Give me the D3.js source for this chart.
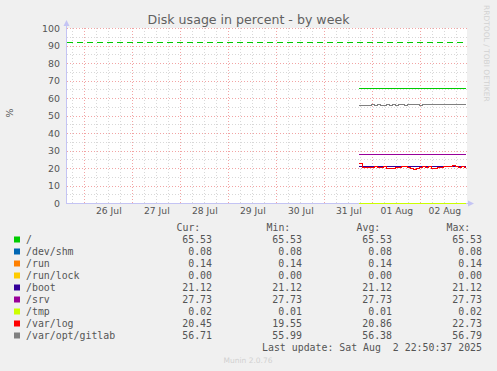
<!DOCTYPE html>
<html>
<head>
<meta charset="utf-8">
<script src="https://cdn.jsdelivr.net/npm/d3@7"></script>
<style>
  body { margin: 0; background: #f0f0f0; }
  svg text { font-family: "DejaVu Sans", sans-serif; fill: #555; }
  .mono { font-family: "DejaVu Sans Mono", monospace; }
</style>
</head>
<body>
<svg id="chart"></svg>
<script>
var width = 497, height = 371;

// filesystems, in draw order
var fsNames  = ["/", "/dev/shm", "/run", "/run/lock", "/boot", "/srv", "/tmp", "/var/log", "/var/opt/gitlab"];
var fsColors = ["#00cc00", "#0066b3", "#ff8000", "#ffcc00", "#330099", "#990099", "#ccff00", "#ff0000", "#808080"];
var curVals = ["65.53", "0.08", "0.14", "0.00", "21.12", "27.73", "0.02", "20.45", "56.71"];
var minVals = ["65.53", "0.08", "0.14", "0.00", "21.12", "27.73", "0.01", "19.55", "55.99"];
var avgVals = ["65.53", "0.08", "0.14", "0.00", "21.12", "27.73", "0.01", "20.86", "56.38"];
var maxVals = ["65.53", "0.08", "0.14", "0.00", "21.12", "27.73", "0.02", "22.73", "56.79"];

// 90 minute samples from Jul 31 17:30
var varLogSamples = [22.73, 20.6, 20.5, 20.5, 20.4, 21.3, 20.7, 20.5, 21.0, 19.9, 19.8, 20.2,
                     20.5, 20.6, 21.2, 21.3, 20.4, 19.9, 19.55, 20.1, 20.6, 20.9, 20.4, 21.2,
                     20.2, 20.0, 20.6, 20.8, 21.0, 21.0, 21.2, 21.9, 21.4, 20.7, 20.9, 20.45];
var gitlabSamples = [56.0, 56.0, 56.0, 56.0, 56.3, 56.0, 56.5, 56.0, 56.0, 56.5, 56.0, 56.6,
                     56.0, 56.6, 56.6, 56.0, 56.6, 56.7, 56.7, 56.79, 56.0, 56.4, 56.4, 56.4,
                     56.4, 56.4, 56.4, 56.4, 56.4, 56.4, 56.4, 56.4, 56.4, 56.4, 56.4, 56.5];

var warnLevel = 92;
var yTicks = [0, 10, 20, 30, 40, 50, 60, 70, 80, 90, 100];
var xLabelDays = [new Date(2025,6,26,12), new Date(2025,6,27,12), new Date(2025,6,28,12), new Date(2025,6,29,12),
                  new Date(2025,6,30,12), new Date(2025,6,31,12), new Date(2025,7,1,12), new Date(2025,7,2,12)];

var viewEnd = new Date(2025,7,2,23,20);
var viewStart = new Date(viewEnd.getTime() - 720000 * 1000);
var dataStart = new Date(2025,6,31,17,30);
var dataEnd = new Date(2025,7,2,22,50);

var svg = d3.select("#chart").attr("width", width).attr("height", height);

var x = d3.scaleTime().domain([viewStart, viewEnd]).range([67, 467]);
var y = d3.scaleLinear().domain([0, 100]).range([203, 28]);

// plot background
svg.append("rect").attr("x", 67).attr("y", 28).attr("width", 400).attr("height", 175).attr("fill", "#fff");

// minor grid
var grid = svg.append("g").attr("shape-rendering", "crispEdges");
d3.timeHour.every(6).range(viewStart, viewEnd).forEach(function(t){
    if (t.getHours() === 0) return;
    grid.append("line").attr("x1", Math.round(x(t)) + 0.5).attr("x2", Math.round(x(t)) + 0.5)
        .attr("y1", 28).attr("y2", 203).attr("stroke", "#d8d8d8").attr("stroke-dasharray", "1,2");
});
d3.range(5, 100, 10).forEach(function(v){
    grid.append("line").attr("x1", 67).attr("x2", 467).attr("y1", Math.round(y(v)) + 0.5).attr("y2", Math.round(y(v)) + 0.5)
        .attr("stroke", "#d8d8d8").attr("stroke-dasharray", "1,2");
});
// major grid
d3.timeDay.range(viewStart, viewEnd).forEach(function(t){
    grid.append("line").attr("x1", Math.round(x(t)) + 0.5).attr("x2", Math.round(x(t)) + 0.5)
        .attr("y1", 28).attr("y2", 203).attr("stroke", "#f2a4a4").attr("stroke-dasharray", "1,2");
});
yTicks.forEach(function(v){
    if (v === 0) return;
    grid.append("line").attr("x1", 67).attr("x2", 467).attr("y1", Math.round(y(v)) + 0.5).attr("y2", Math.round(y(v)) + 0.5)
        .attr("stroke", "#f2a4a4").attr("stroke-dasharray", "1,2");
});

// axes
var axisColor = "#c4c4f4";
svg.append("line").attr("x1", 66.5).attr("x2", 66.5).attr("y1", 203).attr("y2", 24).attr("stroke", axisColor);
svg.append("path").attr("d", "M63.5,26 L66.5,20 L69.5,26 Z").attr("fill", axisColor);
svg.append("line").attr("x1", 66).attr("x2", 470).attr("y1", 203.5).attr("y2", 203.5).attr("stroke", axisColor);
svg.append("path").attr("d", "M468,200.5 L474,203.5 L468,206.5 Z").attr("fill", axisColor);

var yAxis = svg.append("g").attr("transform", "translate(60,0)")
    .call(d3.axisLeft(y).tickValues(yTicks).tickSize(0).tickPadding(0).tickFormat(d3.format("d")));
yAxis.select(".domain").remove();
yAxis.selectAll("text").attr("font-size", "9.4px").attr("font-family", null).attr("fill", "#555").attr("dy", "0.36em");

var xAxis = svg.append("g").attr("transform", "translate(0,207)")
    .call(d3.axisBottom(x).tickValues(xLabelDays).tickSize(0).tickPadding(0).tickFormat(d3.timeFormat("%d %b")));
xAxis.select(".domain").remove();
xAxis.selectAll("text").attr("font-size", "9.2px").attr("font-family", null).attr("fill", "#555");

// warning line
svg.append("line").attr("x1", 67).attr("x2", 465).attr("y1", Math.round(y(warnLevel)) + 0.5).attr("y2", Math.round(y(warnLevel)) + 0.5)
    .attr("stroke", "#00cc00").attr("stroke-dasharray", "6,4");

// series
var line = d3.line().x(function(d){ return x(d.t); }).y(function(d){ return Math.round(y(d.v)) + 0.5; }).curve(d3.curveStepAfter);
var plot = svg.append("g").attr("shape-rendering", "crispEdges");
fsNames.forEach(function(name, i){
    var pts;
    if (name === "/var/log" || name === "/var/opt/gitlab") {
        var src = name === "/var/log" ? varLogSamples : gitlabSamples;
        pts = src.map(function(v, k){ return {t: d3.timeMinute.offset(dataStart, 90 * k), v: v}; });
        pts.push({t: dataEnd, v: src[src.length - 1]});
    } else {
        pts = [{t: dataStart, v: +curVals[i]}, {t: dataEnd, v: +curVals[i]}];
    }
    plot.append("path").datum(pts).attr("d", line).attr("fill", "none").attr("stroke", fsColors[i]).attr("stroke-width", 1);
});

// title and labels
svg.append("text").attr("x", 248.5).attr("y", 24).attr("text-anchor", "middle").attr("font-size", "12.6px").style("fill", "#606060").text("Disk usage in percent - by week");
svg.append("text").attr("transform", "translate(13,113) rotate(-90)").attr("text-anchor", "middle").attr("font-size", "9.4px").text("%");
svg.append("text").attr("transform", "translate(484,5) rotate(90)").attr("font-size", "7.5px").style("fill", "#d2d2d2")
    .text("RRDTOOL / TOBI OETIKER");

// legend
var leg = svg.append("g").attr("class", "mono").attr("font-size", "9.9px");
var colRight = [212, 302, 392, 482];
["Cur:", "Min:", "Avg:", "Max:"].forEach(function(h, j){
    leg.append("text").attr("class", "mono").attr("x", colRight[j] - 35.5).attr("y", 231).text(h);
});
fsNames.forEach(function(name, i){
    var by = 243 + 12 * i;
    leg.append("rect").attr("x", 14).attr("y", by - 6.5).attr("width", 6).attr("height", 6).attr("fill", fsColors[i]);
    leg.append("text").attr("class", "mono").attr("x", 26).attr("y", by).text(name);
    [curVals[i], minVals[i], avgVals[i], maxVals[i]].forEach(function(v, j){
        leg.append("text").attr("class", "mono").attr("x", colRight[j]).attr("y", by).attr("text-anchor", "end").text(v);
    });
});
leg.append("text").attr("class", "mono").attr("x", 482).attr("y", 351).attr("text-anchor", "end")
    .style("white-space", "pre").attr("xml:space", "preserve").text("Last update: Sat Aug  2 22:50:37 2025");

svg.append("text").attr("x", 248).attr("y", 363).attr("text-anchor", "middle").attr("font-size", "7.5px").style("fill", "#d0d0d0").text("Munin 2.0.76");
</script>
</body>
</html>
